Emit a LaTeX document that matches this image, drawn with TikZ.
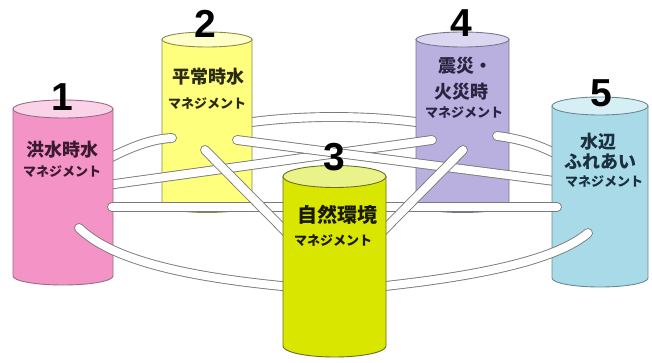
\documentclass[tikz,border=0pt]{standalone}
\usepackage{fontspec}
\setmainfont{Liberation Sans}
\newfontfamily\jp{Noto Sans CJK JP}

\definecolor{pinkbody}{HTML}{F493C5}\definecolor{pinktop}{HTML}{FAD3E8}\definecolor{pinkedge}{HTML}{9A6A88}
\definecolor{yelbody}{HTML}{FFFF7E}\definecolor{yeltop}{HTML}{FFFFC8}\definecolor{yeledge}{HTML}{8A8A50}
\definecolor{limebody}{HTML}{D9E600}\definecolor{limetop}{HTML}{EAF28A}\definecolor{limeedge}{HTML}{6A7020}
\definecolor{lilbody}{HTML}{BAB0E0}\definecolor{liltop}{HTML}{DCD7F0}\definecolor{liledge}{HTML}{7A7490}
\definecolor{bluebody}{HTML}{A8DBE7}\definecolor{bluetop}{HTML}{D6EFF5}\definecolor{blueedge}{HTML}{6A8A96}
\definecolor{tubeedge}{HTML}{7A7A7A}
\definecolor{inkA}{HTML}{3A1A30}\definecolor{inkB}{HTML}{2A2A10}\definecolor{inkC}{HTML}{1A1A00}
\definecolor{inkD}{HTML}{2A2440}\definecolor{inkE}{HTML}{1A3040}

% cylinder: left x, right x, top centre y, ellipse half-height, bottom centre y, colour prefix
\newcommand\drawcyl[6]{%
  \pgfmathsetmacro\cylcx{(#1+#2)/2}%
  \pgfmathsetmacro\cylrx{(#2-#1)/2}%
  \filldraw[fill=#6body, draw=#6edge, line width=0.9pt]
    (#1,#3) -- (#1,#5) arc[start angle=180, end angle=0, x radius=\cylrx, y radius=#4] -- (#2,#3) -- cycle;
  \filldraw[fill=#6top, draw=#6edge, line width=0.9pt]
    (\cylcx,#3) ellipse[x radius=\cylrx, y radius=#4];
}

\begin{document}
\begin{tikzpicture}[x=1pt, y=-1pt,
  tube/.style={draw=tubeedge, line width=0.9pt, double=white, double distance=8pt, line cap=round},
  num/.style={font=\bfseries\fontsize{39}{40}\selectfont, inner sep=0pt},
  title/.style={font=\jp\bfseries\fontsize{18}{20}\selectfont, inner sep=0pt},
  sub/.style={font=\jp\bfseries\fontsize{13}{14}\selectfont, inner sep=0pt}]

\fill[white] (0,0) rectangle (652,363);
\useasboundingbox (0,0) rectangle (652,363);

% tube ends
\coordinate (a24) at (245,123);  \coordinate (b24) at (423,123);
\coordinate (a12) at (100,163);  \coordinate (b12) at (172,138);
\coordinate (a14) at (100,186);  \coordinate (b14) at (432,140);
\coordinate (a25) at (237,140);  \coordinate (b25) at (562,182);
\coordinate (a45) at (497,136);  \coordinate (b45) at (562,157);
\coordinate (a15) at (112,207);  \coordinate (b15) at (557,207);
\coordinate (a23) at (205,150);  \coordinate (b23) at (292,238);
\coordinate (a43) at (463,150);  \coordinate (b43) at (376,238);
\coordinate (a13) at (79,228);   \coordinate (b13) at (292,287);
\coordinate (a53) at (588,233);  \coordinate (b53) at (376,287);

% back arc between the two rear cylinders
\draw[tube] (a24) .. controls (300,115) and (368,115) .. (b24);

% rear cylinders
\drawcyl{162}{252}{39.5}{7.5}{205}{yel}
\drawcyl{416}{509}{39.5}{7.5}{205}{lil}

% tubes running behind the outer cylinders
\draw[tube] (a12) .. controls (128,148) and (150,139) .. (b12);
\draw[tube] (a14) -- (b14);
\draw[tube] (a25) -- (b25);
\draw[tube] (a45) .. controls (522,139) and (542,146) .. (b45);

% outer cylinders
\drawcyl{13}{113}{109}{9}{276}{pink}
\drawcyl{552}{648}{106}{9}{278}{blue}

% front tubes
\draw[tube] (a15) -- (b15);
\draw[tube] (a23) -- (b23);
\draw[tube] (a43) -- (b43);
\draw[tube] (a13) .. controls (112,260) and (185,277) .. (b13);
\draw[tube] (a53) .. controls (556,260) and (480,276) .. (b53);

% front cylinder
\drawcyl{283}{386}{176.5}{11}{346}{lime}

% labels
\node[title, text=inkA] (t1) at (62,150) {洪水時水};
\node[sub, text=inkA] (s1) at (62,172) {マネジメント};
\node[title, text=inkB] (t2) at (208,77) {平常時水};
\node[sub, text=inkB] (s2) at (207,104) {マネジメント};
\node[title, text=inkC, font=\jp\bfseries\fontsize{20}{22}\selectfont] (t3) at (337,215) {自然環境};
\node[sub, text=inkC] (s3) at (333,241) {マネジメント};
\node[title, text=inkD] (t4a) at (465,66) {震災・};
\node[title, text=inkD] (t4b) at (461,92) {火災時};
\node[sub, text=inkD] (s4) at (464,113) {マネジメント};
\node[title, text=inkE] (t5a) at (598,142) {水辺};
\node[title, text=inkE] (t5b) at (600,162) {ふれあい};
\node[sub, text=inkE] (s5) at (604,182) {マネジメント};

\node[num] (n1) at (62,97) {1};
\node[num] (n2) at (205,24) {2};
\node[num] (n3) at (334,157) {3};
\node[num] (n4) at (461,23) {4};
\node[num] (n5) at (601,93) {5};
\end{tikzpicture}
\end{document}
